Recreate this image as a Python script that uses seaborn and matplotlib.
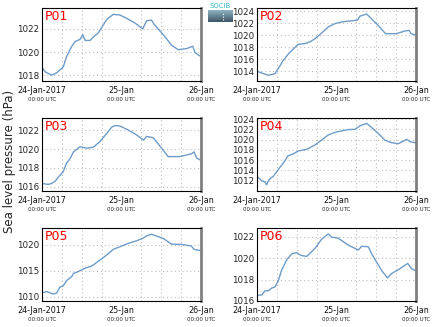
import numpy as np
import pandas as pd
import matplotlib
matplotlib.use("Agg")
import matplotlib.pyplot as plt
import matplotlib.dates as mdates
import seaborn as sns

# Hours after 24-Jan-2017 00:00 UTC and sea level pressure (hPa) per station
p01_hours = [0, 0.9, 2.9, 4.4, 6.4, 7.4, 9.0, 10.0, 11.5, 12.3, 13.0, 14.5, 15.7, 17.0, 19.5,
             21.5, 23.5, 25.6, 28.1, 30.4, 31.6, 33.1, 33.8, 36.6, 39.1, 41.1, 43.7, 45.5, 46.2, 48]
p01_slp = [1018.7, 1018.3, 1018.0, 1018.2, 1018.7, 1019.6, 1020.5, 1020.9, 1021.1, 1021.5, 1021.0,
           1021.0, 1021.35, 1021.65, 1022.8, 1023.25, 1023.2, 1022.9, 1022.5, 1022.0, 1022.7, 1022.75,
           1022.4, 1021.5, 1020.6, 1020.2, 1020.3, 1020.5, 1019.95, 1019.6]

p02_hours = [0, 3.4, 5.4, 6.4, 7.9, 9.5, 11.5, 12.5, 14.5, 16.0, 17.5, 19.5, 21.5, 23.5, 25.6,
             28.1, 30.4, 31.1, 33.1, 34.6, 36.6, 38.8, 42.1, 44.7, 45.9, 46.5, 48]
p02_slp = [1014.0, 1013.35, 1013.6, 1014.45, 1015.8, 1016.9, 1018.0, 1018.5, 1018.6, 1018.9,
           1019.4, 1020.35, 1021.35, 1021.9, 1022.2, 1022.35, 1022.5, 1023.15, 1023.5, 1022.7,
           1021.6, 1020.25, 1020.25, 1020.7, 1020.8, 1020.25, 1020.0]

p03_hours = [0, 1.9, 2.9, 4.0, 5.0, 6.4, 7.4, 8.5, 9.5, 11.5, 13.5, 15.5, 17.5, 19.5, 21.1,
             22.1, 23.5, 25.6, 28.6, 30.6, 31.6, 33.6, 35.2, 38.1, 40.2, 41.6, 45.1, 45.9, 46.7, 48]
p03_slp = [1016.35, 1016.25, 1016.35, 1016.6, 1017.05, 1017.6, 1018.5, 1019.0, 1019.7, 1020.25,
           1020.1, 1020.2, 1020.8, 1021.65, 1022.35, 1022.5, 1022.45, 1022.1, 1021.5, 1020.95,
           1021.35, 1021.2, 1020.5, 1019.2, 1019.2, 1019.2, 1019.5, 1019.7, 1019.05, 1018.8]

p04_hours = [0, 1.4, 2.4, 2.9, 3.6, 4.9, 6.4, 8.0, 9.3, 11.0, 12.5, 15.0, 17.5, 19.5, 21.5,
             23.5, 25.6, 27.6, 29.6, 31.1, 33.1, 34.6, 36.6, 38.6, 40.6, 42.7, 45.2, 46.2, 48]
p04_slp = [1012.85, 1012.0, 1011.75, 1011.2, 1012.2, 1012.85, 1014.15, 1015.5, 1016.8, 1017.25,
           1017.8, 1018.1, 1018.95, 1019.9, 1020.9, 1021.4, 1021.7, 1021.95, 1022.0, 1022.7,
           1023.15, 1022.35, 1021.2, 1019.9, 1019.4, 1019.2, 1020.05, 1019.6, 1019.35]

p05_hours = [0, 1.4, 3.4, 4.4, 5.4, 6.4, 7.4, 9.0, 9.5, 11.0, 13.0, 15.0, 17.5, 19.5, 21.5,
             23.5, 26.0, 28.6, 30.4, 31.6, 33.1, 34.6, 36.6, 39.1, 42.1, 45.1, 45.9, 48]
p05_slp = [1010.8, 1011.0, 1010.55, 1010.7, 1011.85, 1012.1, 1013.1, 1013.9, 1014.5, 1014.85,
           1015.5, 1015.9, 1017.05, 1018.0, 1019.1, 1019.6, 1020.25, 1020.75, 1021.2, 1021.7,
           1022.0, 1021.65, 1021.2, 1020.1, 1020.05, 1019.75, 1019.1, 1018.85]

p06_hours = [0, 1.4, 2.4, 3.4, 4.4, 5.4, 6.4, 7.4, 9.0, 10.5, 12.0, 13.3, 15.0, 17.5, 19.5,
             21.5, 22.5, 24.5, 27.6, 30.6, 31.6, 33.6, 34.6, 37.6, 39.4, 40.6, 43.1, 45.5, 46.7, 48]
p06_slp = [1016.55, 1016.55, 1016.95, 1016.95, 1017.2, 1017.3, 1017.85, 1018.85, 1019.85, 1020.4,
           1020.5, 1020.25, 1020.15, 1020.9, 1021.75, 1022.25, 1021.95, 1021.85, 1021.2, 1020.75,
           1021.1, 1021.05, 1020.4, 1018.85, 1018.15, 1018.55, 1019.0, 1019.5, 1019.0, 1018.8]

stations = ["P01", "P02", "P03", "P04", "P05", "P06"]
series = [(p01_hours, p01_slp), (p02_hours, p02_slp), (p03_hours, p03_slp),
          (p04_hours, p04_slp), (p05_hours, p05_slp), (p06_hours, p06_slp)]
y_ticks = [[1018, 1020, 1022], [1014, 1016, 1018, 1020, 1022, 1024], [1016, 1018, 1020, 1022],
           [1012, 1014, 1016, 1018, 1020, 1022, 1024], [1010, 1015, 1020], [1016, 1018, 1020, 1022]]
y_limits = [(1017.5, 1023.8), (1012.4, 1024.5), (1015.55, 1023.3),
            (1010.0, 1024.2), (1009.2, 1023.2), (1016.0, 1022.8)]
x_top_labels = ["24-Jan-2017", "25-Jan", "26-Jan"]
x_sub_label = "00:00 UTC"

start = pd.Timestamp("2017-01-24 00:00")
end = pd.Timestamp("2017-01-26 00:00")
day_ticks = [start, start + pd.Timedelta(days=1), end]

sns.set_theme(style="white")
plt.rcParams["font.family"] = ["DejaVu Sans"]

fig = plt.figure(figsize=(4.35, 3.27), dpi=100)
W, H = 435.0, 327.0
col_x = [42, 257]
row_y = [(8, 81), (118, 191), (228, 301)]
line_color = "#6e9cc9"

for i, name in enumerate(stations):
    r, c = divmod(i, 2)
    top, bot = row_y[r]
    ax = fig.add_axes([col_x[c] / W, 1 - bot / H, 159 / W, (bot - top) / H])
    hrs, slp = series[i]
    df = pd.DataFrame({"time": start + pd.to_timedelta(hrs, unit="h"), "slp": slp})
    sns.lineplot(data=df, x="time", y="slp", ax=ax, color=line_color, linewidth=1.0)
    ax.set_xlim(start, end)
    ax.set_ylim(*y_limits[i])
    ax.set_yticks(y_ticks[i])
    ax.set_yticklabels([str(t) for t in y_ticks[i]], fontsize=6.3)
    ax.set_xticks(day_ticks)
    ax.set_xticklabels([])
    ax.xaxis.set_minor_locator(mdates.HourLocator(byhour=[0, 6, 12, 18]))
    ax.grid(which="minor", axis="x", color="#bdbdbd", linestyle=(0, (1, 2.5)), linewidth=0.8)
    ax.grid(which="major", axis="y", color="#bdbdbd", linestyle=(0, (1, 2.5)), linewidth=0.8)
    ax.tick_params(which="both", length=0, pad=2)
    ax.set_xlabel("")
    ax.set_ylabel("")
    for s in ["top", "left", "bottom"]:
        ax.spines[s].set_color("black")
        ax.spines[s].set_linewidth(0.8)
    ax.spines["right"].set_color("#808080")
    ax.spines["right"].set_linewidth(2.0)
    tr = ax.get_xaxis_transform()
    for t, lab in zip(day_ticks, x_top_labels):
        ax.text(t, -0.125, lab, transform=tr, ha="center", va="center", fontsize=5.8, color="#111111")
        ax.text(t, -0.255, x_sub_label, transform=tr, ha="center", va="center", fontsize=4.0, color="#222222")
    ax.text(0.02, 0.97, name, transform=ax.transAxes, ha="left", va="top", fontsize=9, color="red")

fig.text(10 / W, 1 - 161 / H, "Sea level pressure (hPa)", rotation=90, ha="center", va="center", fontsize=8.5)

# small institutional logo
logo = fig.add_axes([208 / W, 1 - 22 / H, 25 / W, 12 / H])
grad = np.linspace(0, 1, 50).reshape(-1, 1)
logo.imshow(grad, aspect="auto", cmap=matplotlib.colors.LinearSegmentedColormap.from_list(
    "logo", ["#8fb5c4", "#3d5566"]), extent=[0, 1, 0, 1])
logo.plot([0.62, 0.62], [0.15, 0.85], color="white", linestyle=(0, (1, 1.5)), linewidth=0.8)
logo.set_axis_off()
fig.text(220.5 / W, 1 - 6 / H, "SOCIB", ha="center", va="center", fontsize=5, color="#38b8d0")

fig.savefig("out.png", dpi=100)
